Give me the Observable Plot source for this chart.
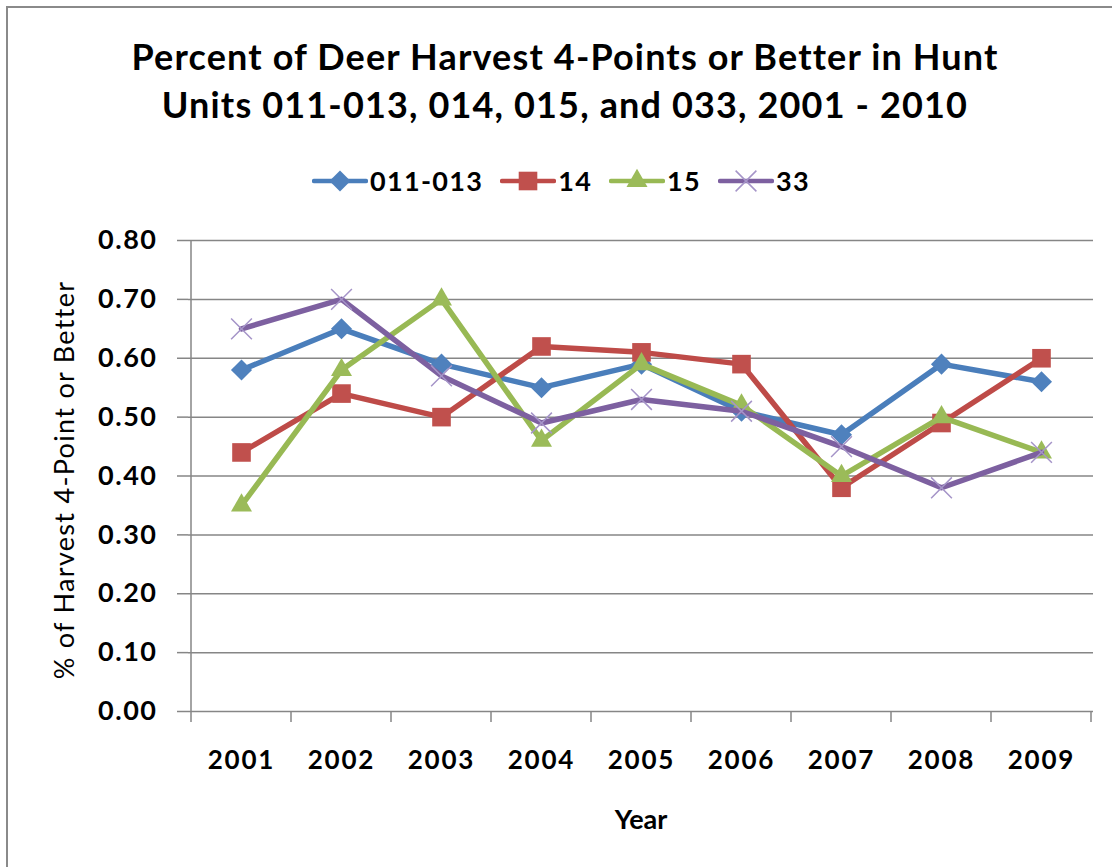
<!DOCTYPE html>
<html><head><meta charset="utf-8">
<script src="https://cdn.jsdelivr.net/npm/d3@7"></script>
<script src="https://cdn.jsdelivr.net/npm/@observablehq/plot@0.6"></script>
<style>
body{margin:0;background:#fff;font-family:Lato,"Open Sans",sans-serif;color:#000;}
#wrap{position:relative;width:1112px;height:867px;overflow:hidden;background:#fff;}
#frame{position:absolute;left:6px;top:6px;width:1300px;height:1100px;border-left:2px solid #8a8a8a;border-top:2px solid #8a8a8a;}
#title{position:absolute;left:0;width:1130px;top:32px;text-align:center;font-weight:bold;font-size:36px;letter-spacing:1.15px;line-height:48px;}
#legend{position:absolute;top:164px;left:0;width:1122px;display:flex;justify-content:center;align-items:center;gap:17px;font-weight:bold;font-size:27px;letter-spacing:1.3px;}
#legend .item{display:flex;align-items:center;}
#legend svg{display:block;margin-right:2px;}
#chart{position:absolute;left:0;top:205px;}
#chart g[aria-label="x-axis tick label"] text{letter-spacing:1.8px;}
#chart g[aria-label="y-axis tick label"] text{letter-spacing:1.5px;}
#chart g[aria-label="text"] text[transform*="rotate"]{letter-spacing:1.3px;}
</style></head>
<body>
<div id="wrap">
  <div id="frame"></div>
  <div id="title">Percent of Deer Harvest 4-Points or Better in Hunt<br>Units 011-013, 014, 015, and 033, 2001 - 2010</div>
  <div id="legend"></div>
  <div id="chart"></div>
</div>
<script>
const years = ["2001","2002","2003","2004","2005","2006","2007","2008","2009"];
const units = ["011-013","14","15","33"];
const v011_013 = [0.58,0.65,0.59,0.55,0.59,0.51,0.47,0.59,0.56];
const v14      = [0.44,0.54,0.50,0.62,0.61,0.59,0.38,0.49,0.60];
const v15      = [0.35,0.58,0.70,0.46,0.59,0.52,0.40,0.50,0.44];
const v33      = [0.65,0.70,0.57,0.49,0.53,0.51,0.45,0.38,0.44];
const yTicks = [0,0.1,0.2,0.3,0.4,0.5,0.6,0.7,0.8];
const yTitle = "% of Harvest 4-Point or Better";
const xTitle = "Year";

const seriesValues = [v011_013, v14, v15, v33];
const lineColors = ["#4A7EBB","#BE4B48","#98B954","#7D60A0"];
const markFill = ["#4F81BD","#C0504D","#9BBB59","none"];
const markStroke = ["none","none","none","#A594C8"];
const symbols = ["diamond2","square","triangle","times"];
const radii = [9.5,10.5,7.8,9.5];
const d3sym = [d3.symbolDiamond2,d3.symbolSquare,d3.symbolTriangle,d3.symbolTimes];

const data = [];
units.forEach((u,k)=>years.forEach((y,i)=>data.push({unit:u, year:y, value:seriesValues[k][i]})));

// legend
const leg = document.getElementById("legend");
units.forEach((u,k)=>{
  const it = document.createElement("div"); it.className="item";
  const s = d3.create("svg").attr("width",56).attr("height",30);
  s.append("line").attr("x1",2).attr("x2",54).attr("y1",15).attr("y2",15)
    .attr("stroke",lineColors[k]).attr("stroke-width",4.5).attr("stroke-linecap","round");
  s.append("path").attr("transform","translate(28,15)")
    .attr("d", d3.symbol(d3sym[k], Math.PI*radii[k]*radii[k])())
    .attr("fill",markFill[k]).attr("stroke",markStroke[k]).attr("stroke-width",1.5);
  it.appendChild(s.node());
  const t = document.createElement("span"); t.textContent=u; it.appendChild(t);
  leg.appendChild(it);
});

const W=1112, H=662, ML=188, MR=19, MT=35, MB=156;

function sepTicks(index, scales, values, dims){
  const x = scales.x, y = scales.y;
  const step = x(years[1]) - x(years[0]);
  const g = d3.create("svg:g").attr("stroke","#868686").attr("stroke-width",1.5);
  const y0 = y(0);
  const xs = years.map(d=>x(d)-step/2).concat([x(years[years.length-1])+step/2]);
  xs.forEach(xx=>g.append("line").attr("x1",xx).attr("x2",xx).attr("y1",y0).attr("y2",y0+11));
  g.append("line").attr("x1",xs[0]).attr("x2",xs[0]).attr("y1",y(0.8)).attr("y2",y0);
  return g.node();
}

const marks = [
  Plot.ruleY(yTicks, {y: d=>d, stroke:"#868686", strokeWidth:1.5, strokeOpacity:1}),
  Plot.axisY({ticks: yTicks, tickSize: 11, tickPadding: 20, tickFormat: d3.format(".2f"),
    label: null, stroke:"#868686", strokeOpacity:1, strokeWidth:1.5, fontSize: 27, fontWeight:"bold", fill:"#000"}),
  Plot.axisX({tickSize: 0, tickPadding: 39, label: null, fontSize: 26, fontWeight:"bold", fill:"#000"}),
  sepTicks,
  Plot.text([yTitle], {text: d=>d, frameAnchor:"left", textAnchor:"middle", rotate:-90, dx:-123, dy:4, fontSize:27, fill:"#000"}),
  Plot.text([xTitle], {text: d=>d, frameAnchor:"bottom", dy:117, fontSize:27, fontWeight:"bold", fill:"#000"})
];
units.forEach((u,k)=>{
  const sd = data.filter(d=>d.unit===u);
  marks.push(Plot.line(sd, {x:"year", y:"value", stroke: lineColors[k], strokeWidth:5.5, strokeLinejoin:"round", strokeLinecap:"round"}));
  marks.push(Plot.dot(sd, {x:"year", y:"value", symbol: symbols[k], r: radii[k], fill: markFill[k], stroke: markStroke[k], strokeWidth:1.5}));
});

const plot = Plot.plot({
  width: W, height: H, marginLeft: ML, marginRight: MR, marginTop: MT, marginBottom: MB,
  style: {fontFamily: "Lato, 'Open Sans', sans-serif", background:"transparent", overflow:"visible"},
  x: {type:"point", domain: years, padding: 0.5, axis: null},
  y: {domain:[0,0.8], axis: null},
  marks
});
document.getElementById("chart").appendChild(plot);
</script>
</body></html>
